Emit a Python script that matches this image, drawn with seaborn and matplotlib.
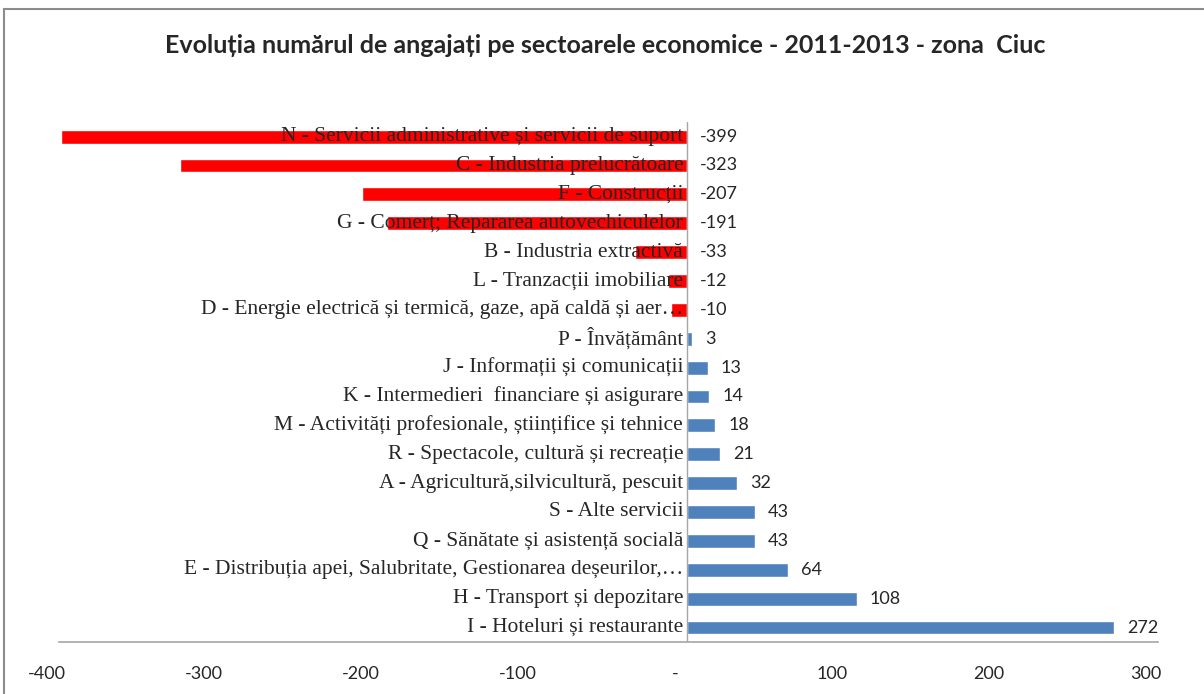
import matplotlib
matplotlib.use('Agg')
import matplotlib.pyplot as plt
import matplotlib.transforms as mtransforms
from matplotlib.patches import Rectangle
import seaborn as sns
import pandas as pd

# ------------------ DATA ------------------
sectors = [
    "N - Servicii administrative și servicii de suport",
    "C - Industria prelucrătoare",
    "F - Construcții",
    "G - Comerț; Repararea autovechiculelor",
    "B - Industria extractivă",
    "L - Tranzacții imobiliare",
    "D - Energie electrică și termică, gaze, apă caldă și aer…",
    "P - Învățământ",
    "J - Informații și comunicații",
    "K - Intermedieri  financiare și asigurare",
    "M - Activități profesionale, științifice și tehnice",
    "R - Spectacole, cultură și recreație",
    "A - Agricultură,silvicultură, pescuit",
    "S - Alte servicii",
    "Q - Sănătate și asistență socială",
    "E - Distribuția apei, Salubritate, Gestionarea deșeurilor,…",
    "H - Transport și depozitare",
    "I - Hoteluri și restaurante",
]
changes = [-399, -323, -207, -191, -33, -12, -10, 3, 13, 14, 18, 21, 32, 43, 43, 64, 108, 272]
tick_values = [-400, -300, -200, -100, 0, 100, 200, 300]
tick_labels = ["-400", "-300", "-200", "-100", "-", "100", "200", "300"]

df = pd.DataFrame({"sector": sectors, "change": changes})
df["sign"] = ["neg" if v < 0 else "pos" for v in df["change"]]

# ------------------ PLOT ------------------
sns.set_style("white")
fig = plt.figure(figsize=(12.04, 6.94), dpi=100)
ax = fig.add_axes([0.049, 0.075, 0.913, 0.749])

sns.barplot(data=df, x="change", y="sector", hue="sign", orient="h",
            palette={"neg": "#FF0000", "pos": "#4F81BD"}, dodge=False,
            legend=False, width=0.48, saturation=1, ax=ax)

ax.set_xlim(-400, 300)
ax.set_ylim(len(sectors) - 0.5, -0.5)
ax.axvline(0, color="#A6A6A6", lw=1, zorder=1)

# category labels sit just left of the zero line
lbl_tr = mtransforms.offset_copy(ax.transData, fig=fig, x=-4, y=0, units="dots")
val_tr = mtransforms.offset_copy(ax.transData, fig=fig, x=13, y=0, units="dots")
for i, (name, v) in enumerate(zip(sectors, changes)):
    ax.text(0, i, name, ha="right", va="center", fontsize=15.5,
            family="Liberation Serif", transform=lbl_tr, zorder=5)
    ax.text(max(v, 0), i, str(v), ha="left", va="center", fontsize=13,
            family="Lato", transform=val_tr, zorder=5)

ax.set_yticks([])
ax.set_ylabel("")
ax.set_xlabel("")
ax.set_xticks(tick_values)
ax.set_xticklabels(tick_labels, family="Lato", fontsize=13)
ax.tick_params(axis="x", length=0, pad=17)
for t in ax.get_xticklabels():
    t.set_transform(t.get_transform() + mtransforms.ScaledTranslation(-12 / 100, 0, fig.dpi_scale_trans))

for s in ["left", "top", "right"]:
    ax.spines[s].set_visible(False)
ax.spines["bottom"].set_color("#A6A6A6")
ax.spines["bottom"].set_linewidth(1.2)

fig.text(0.503, 0.935, "Evoluția numărul de angajați pe sectoarele economice - 2011-2013 - zona  Ciuc",
         ha="center", va="center", fontsize=18, fontweight="bold", family="Lato")

fig.patches.append(Rectangle((0.003, -0.01), 1.0, 0.997, transform=fig.transFigure,
                             fill=False, edgecolor="#8C8C8C", lw=1.5))

plt.savefig("out.png", dpi=100)
